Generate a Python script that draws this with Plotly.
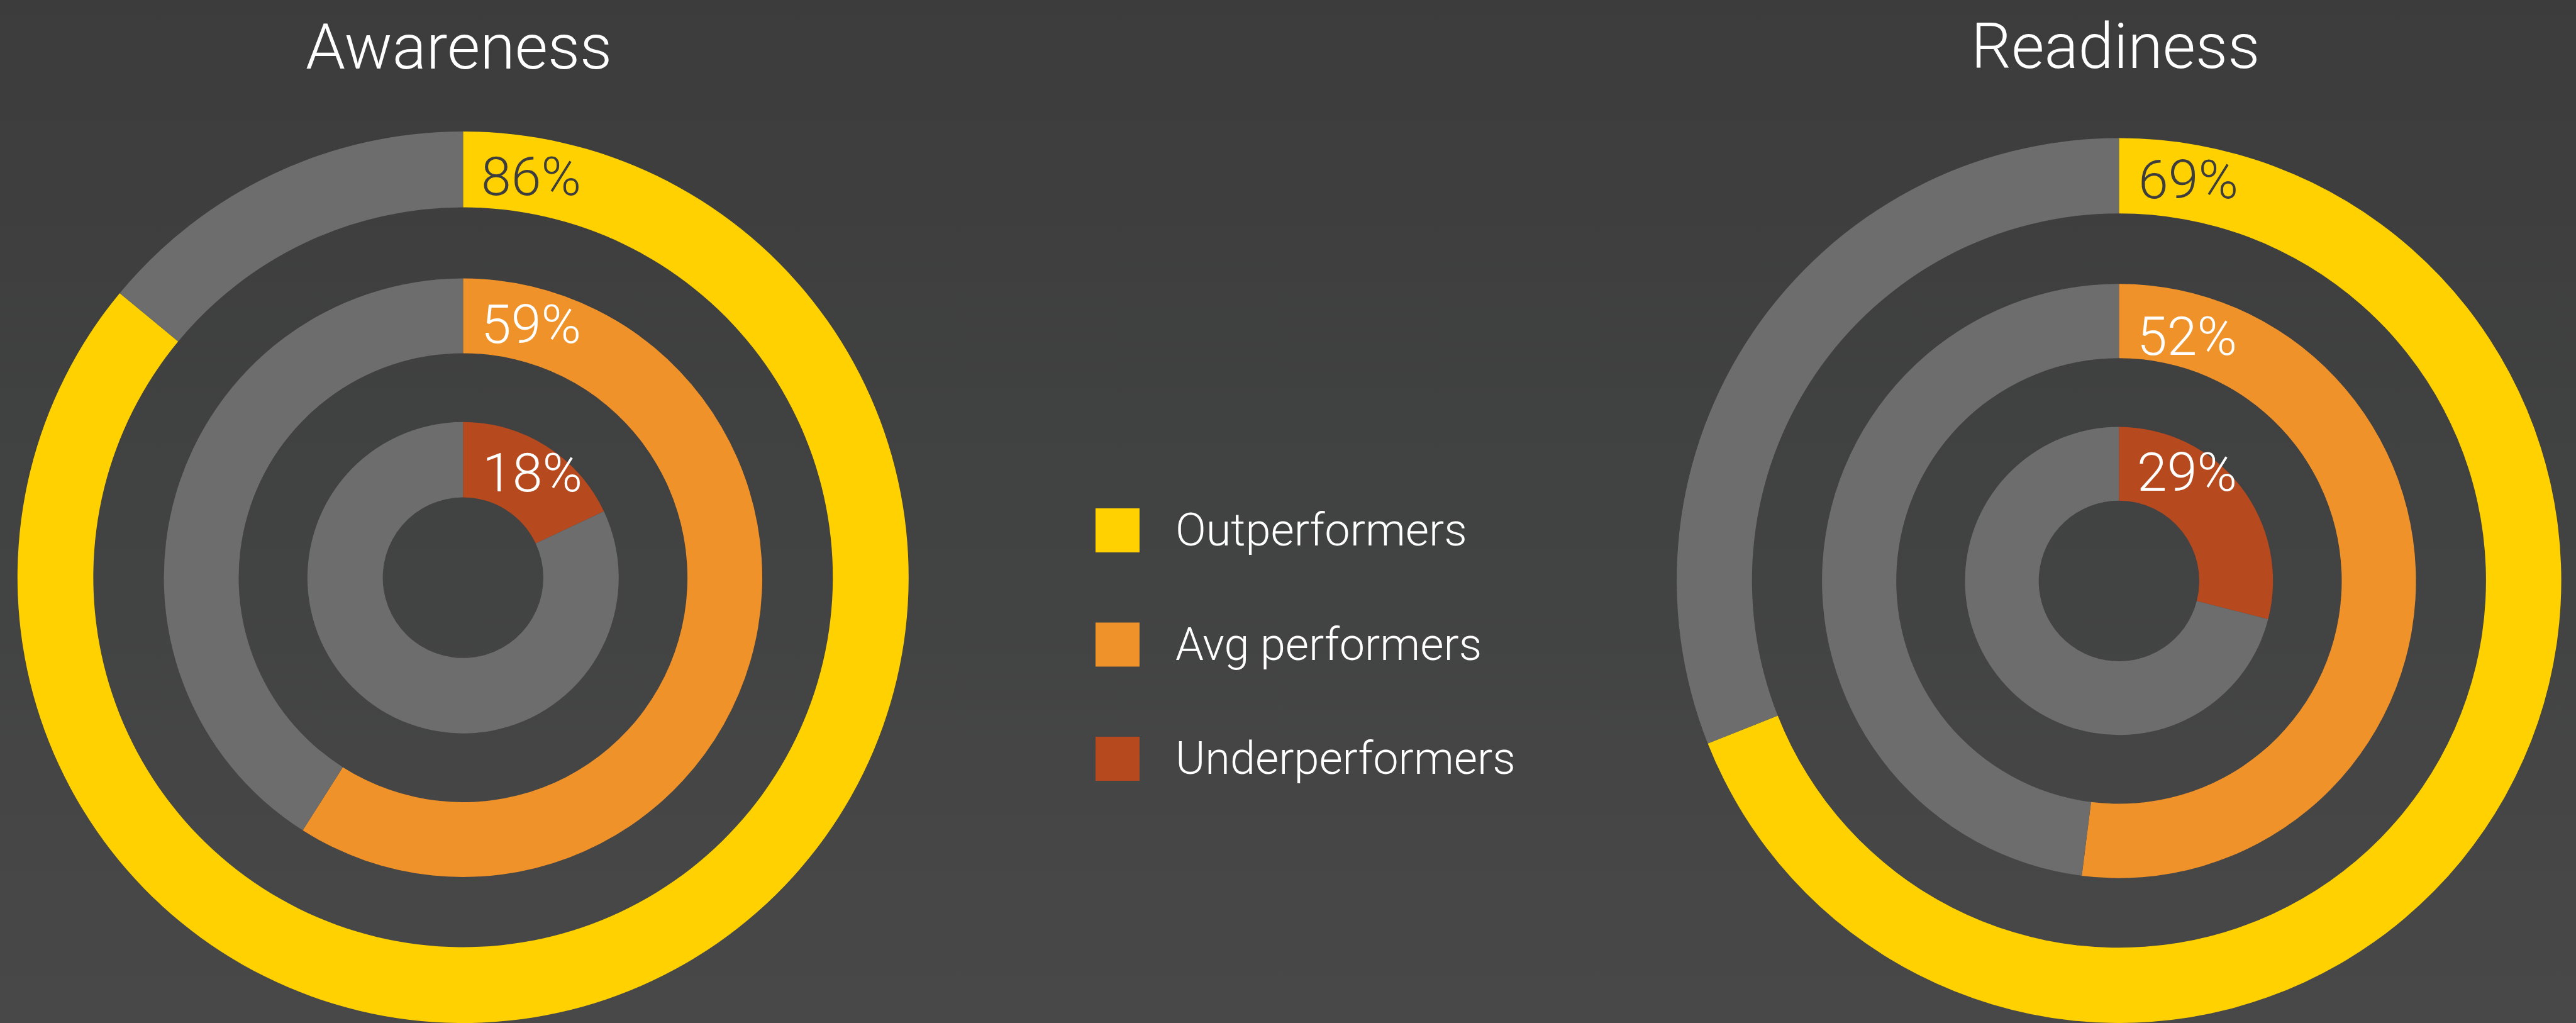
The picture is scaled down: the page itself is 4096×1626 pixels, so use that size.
import base64
import plotly.graph_objects as go

# ---------------- data ----------------
metrics = ["Awareness", "Readiness"]
groups = ["Outperformers", "Avg performers", "Underperformers"]
awareness_pct = [86, 59, 18]
readiness_pct = [69, 52, 29]

# ---------------- style ----------------
group_colors = ["#FFD100", "#F0922A", "#B7491E"]
rest_color = "#6D6D6D"
label_colors = ["#3D3D3D", "#FFFFFF", "#FFFFFF"]
FONT = "Roboto"

W, H = 4096, 1626
S = 4096 / 4684  # reference -> window scale

# geometry in reference pixels
centers = [(842, 1050), (3853, 1056)]
rings = [
    [(673, 811), (408, 544), (146, 283)],
    [(668, 805), (405, 540), (146, 280)],
]
label_pos = [
    [(873, 321), (873, 589), (875, 859)],
    [(3886, 326), (3883, 611), (3884, 858)],
]
title_pos = [(834, 85), (3846, 84)]

fig = go.Figure()

series = [awareness_pct, readiness_pct]
annotations = []
for m, vals in enumerate(series):
    cx, cy = centers[m][0] * S, centers[m][1] * S
    for g, v in enumerate(vals):
        r_in, r_out = rings[m][g][0] * S, rings[m][g][1] * S
        x0, x1 = (cx - r_out) / W, (cx + r_out) / W
        y0, y1 = (H - cy - r_out) / H, (H - cy + r_out) / H
        fig.add_trace(go.Pie(
            values=[v, 100 - v],
            labels=[groups[g], "Other"],
            marker=dict(colors=[group_colors[g], rest_color], line=dict(width=0)),
            hole=r_in / r_out,
            sort=False, direction="clockwise", rotation=0,
            textinfo="none", hoverinfo="skip", showlegend=False,
            domain=dict(x=[max(0, x0), min(1, x1)], y=[max(0, y0), min(1, y1)]),
        ))
        lx, ly = label_pos[m][g]
        annotations.append(dict(
            text=f"{v}%", xref="paper", yref="paper",
            x=lx * S / W, y=1 - ly * S / H, xanchor="left", yanchor="middle",
            showarrow=False,
            font=dict(family=FONT, size=86, color=label_colors[g], weight=300),
        ))
    tx, ty = title_pos[m]
    annotations.append(dict(
        text=metrics[m], xref="paper", yref="paper",
        x=tx * S / W, y=1 - ty * S / H, xanchor="center", yanchor="middle",
        showarrow=False,
        font=dict(family=FONT, size=101, color="#FFFFFF", weight=300),
    ))

# legend swatches (scatter on hidden axes)
fig.add_trace(go.Scatter(
    x=[0] * len(groups), y=groups, mode="markers",
    marker=dict(symbol="square", size=70, color=group_colors, line=dict(width=0)),
    hoverinfo="skip", showlegend=False,
))
for g, name in enumerate(groups):
    annotations.append(dict(
        text=name, xref="paper", yref="y",
        x=2135 * S / W, y=name, xanchor="left", yanchor="middle",
        showarrow=False,
        font=dict(family=FONT, size=72, color="#FFFFFF", weight=300),
    ))

leg_cx = 2032 * S
leg_top = 964 * S - 0.5 * 181.5
leg_bot = leg_top + 3 * 181.5

svg = (
    '<svg xmlns="http://www.w3.org/2000/svg" width="100" height="100" preserveAspectRatio="none">'
    '<defs><linearGradient id="g" x1="0" y1="0" x2="0" y2="1">'
    '<stop offset="0" stop-color="#3C3C3D"/><stop offset="1" stop-color="#474847"/>'
    '</linearGradient></defs><rect width="100" height="100" fill="url(#g)"/></svg>'
)
bg_src = "data:image/svg+xml;base64," + base64.b64encode(svg.encode()).decode()

fig.update_layout(
    width=W, height=H,
    margin=dict(l=0, r=0, t=0, b=0, pad=0),
    paper_bgcolor="#414243", plot_bgcolor="rgba(0,0,0,0)",
    xaxis=dict(visible=False, range=[-1, 1], domain=[(leg_cx - 100) / W, (leg_cx + 100) / W],
               fixedrange=True),
    yaxis=dict(visible=False, type="category", categoryorder="array", categoryarray=groups,
               range=[2.5, -0.5], domain=[1 - leg_bot / H, 1 - leg_top / H], fixedrange=True),
    annotations=annotations,
    images=[dict(source=bg_src, xref="paper", yref="paper", x=0, y=1, sizex=1, sizey=1,
                 xanchor="left", yanchor="top", sizing="stretch", layer="below")],
)

fig.write_html(
    "out.html",
    config={"displayModeBar": False},
    post_script="document.body.style.margin='0';document.body.style.background='#414243';",
)
